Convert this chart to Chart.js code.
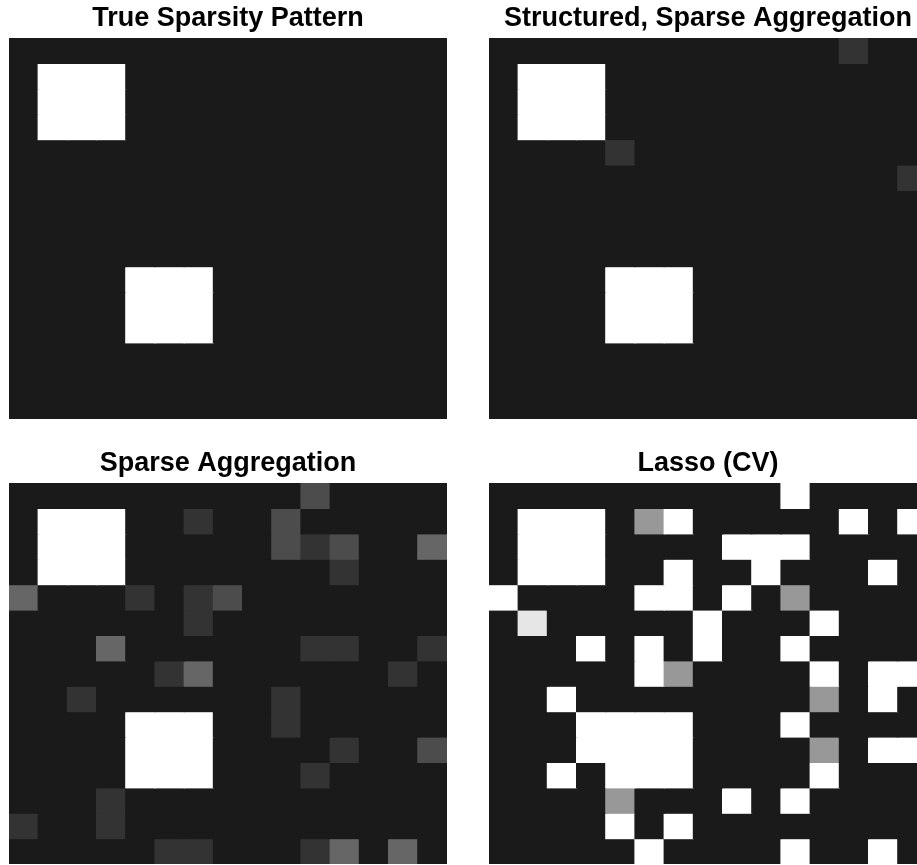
<!DOCTYPE html>
<html>
<head>
<meta charset="utf-8">
<script src="https://cdn.jsdelivr.net/npm/chart.js@4.4.0/dist/chart.umd.min.js"></script>
<style>
  html, body { margin: 0; padding: 0; background: #fff; overflow: hidden; width: 917px; height: 865px; }
  canvas { position: absolute; }
</style>
</head>
<body>
<canvas id="trueChart" width="438" height="419" style="left:9px;top:0px"></canvas>
<canvas id="structChart" width="438" height="419" style="left:489px;top:0px"></canvas>
<canvas id="sparseChart" width="438" height="419" style="left:9px;top:445px"></canvas>
<canvas id="lassoChart" width="438" height="419" style="left:489px;top:445px"></canvas>
<script>
// columnas de la matriz (15 x 15)
const columnas = ['1','2','3','4','5','6','7','8','9','10','11','12','13','14','15'];

// patron real de dispersion
const patronReal = [
  [0,0,0,0,0,0,0,0,0,0,0,0,0,0,0],
  [0,1,1,1,0,0,0,0,0,0,0,0,0,0,0],
  [0,1,1,1,0,0,0,0,0,0,0,0,0,0,0],
  [0,1,1,1,0,0,0,0,0,0,0,0,0,0,0],
  [0,0,0,0,0,0,0,0,0,0,0,0,0,0,0],
  [0,0,0,0,0,0,0,0,0,0,0,0,0,0,0],
  [0,0,0,0,0,0,0,0,0,0,0,0,0,0,0],
  [0,0,0,0,0,0,0,0,0,0,0,0,0,0,0],
  [0,0,0,0,0,0,0,0,0,0,0,0,0,0,0],
  [0,0,0,0,1,1,1,0,0,0,0,0,0,0,0],
  [0,0,0,0,1,1,1,0,0,0,0,0,0,0,0],
  [0,0,0,0,1,1,1,0,0,0,0,0,0,0,0],
  [0,0,0,0,0,0,0,0,0,0,0,0,0,0,0],
  [0,0,0,0,0,0,0,0,0,0,0,0,0,0,0],
  [0,0,0,0,0,0,0,0,0,0,0,0,0,0,0]
];

// agregacion estructurada y dispersa
const agregEstructurada = [
  [0,0,0,0,0,0,0,0,0,0,0,0,.11,0,0],
  [0,1,1,1,0,0,0,0,0,0,0,0,0,0,0],
  [0,1,1,1,0,0,0,0,0,0,0,0,0,0,0],
  [0,1,1,1,0,0,0,0,0,0,0,0,0,0,0],
  [0,0,0,0,.11,0,0,0,0,0,0,0,0,0,0],
  [0,0,0,0,0,0,0,0,0,0,0,0,0,0,.11],
  [0,0,0,0,0,0,0,0,0,0,0,0,0,0,0],
  [0,0,0,0,0,0,0,0,0,0,0,0,0,0,0],
  [0,0,0,0,0,0,0,0,0,0,0,0,0,0,0],
  [0,0,0,0,1,1,1,0,0,0,0,0,0,0,0],
  [0,0,0,0,1,1,1,0,0,0,0,0,0,0,0],
  [0,0,0,0,1,1,1,0,0,0,0,0,0,0,0],
  [0,0,0,0,0,0,0,0,0,0,0,0,0,0,0],
  [0,0,0,0,0,0,0,0,0,0,0,0,0,0,0],
  [0,0,0,0,0,0,0,0,0,0,0,0,0,0,0]
];

// agregacion dispersa
const agregDispersa = [
  [0,0,0,0,0,0,0,0,0,0,.22,0,0,0,0],
  [0,1,1,1,0,0,.11,0,0,.22,0,0,0,0,0],
  [0,1,1,1,0,0,0,0,0,.22,.11,.22,0,0,.33],
  [0,1,1,1,0,0,0,0,0,0,0,.11,0,0,0],
  [.33,0,0,0,.11,0,.11,.22,0,0,0,0,0,0,0],
  [0,0,0,0,0,0,.11,0,0,0,0,0,0,0,0],
  [0,0,0,.33,0,0,0,0,0,0,.11,.11,0,0,.11],
  [0,0,0,0,0,.11,.33,0,0,0,0,0,0,.11,0],
  [0,0,.11,0,0,0,0,0,0,.11,0,0,0,0,0],
  [0,0,0,0,1,1,1,0,0,.11,0,0,0,0,0],
  [0,0,0,0,1,1,1,0,0,0,0,.11,0,0,.22],
  [0,0,0,0,1,1,1,0,0,0,.11,0,0,0,0],
  [0,0,0,.11,0,0,0,0,0,0,0,0,0,0,0],
  [.11,0,0,.11,0,0,0,0,0,0,0,0,0,0,0],
  [0,0,0,0,0,.11,.11,0,0,0,.11,.33,0,.33,0]
];

// lasso con validacion cruzada
const lassoCV = [
  [0,0,0,0,0,0,0,0,0,0,1,0,0,0,0],
  [0,1,1,1,0,.55,1,0,0,0,0,0,1,0,1],
  [0,1,1,1,0,0,0,0,1,1,1,0,0,0,0],
  [0,1,1,1,0,0,1,0,0,1,0,0,0,1,0],
  [1,0,0,0,0,1,1,0,1,0,.55,0,0,0,0],
  [0,.89,0,0,0,0,0,1,0,0,0,1,0,0,0],
  [0,0,0,1,0,1,0,1,0,0,1,0,0,0,0],
  [0,0,0,0,0,1,.55,0,0,0,0,1,0,1,1],
  [0,0,1,0,0,0,0,0,0,0,0,.55,0,1,0],
  [0,0,0,1,1,1,1,0,0,0,1,0,0,0,0],
  [0,0,0,1,1,1,1,0,0,0,0,.55,0,1,1],
  [0,0,1,0,1,1,1,0,0,0,0,1,0,0,0],
  [0,0,0,0,.55,0,0,0,1,0,1,0,0,0,0],
  [0,0,0,0,1,0,1,0,0,0,0,0,0,0,0],
  [0,0,0,0,0,1,0,0,0,0,1,0,0,1,0]
];

// escala de grises: 0 -> casi negro, 1 -> blanco
function gris(v) {
  const g = Math.round(26 + v * 229);
  return 'rgb(' + g + ',' + g + ',' + g + ')';
}

function panel(id, titulo, matriz) {
  new Chart(document.getElementById(id), {
    type: 'bar',
    data: {
      labels: columnas,
      datasets: matriz.map((fila, i) => ({
        label: 'fila ' + (i + 1),
        data: fila.map(() => 1),
        backgroundColor: fila.map(gris),
        borderWidth: 0,
        inflateAmount: 0.6,
        barPercentage: 1,
        categoryPercentage: 1
      }))
    },
    options: {
      responsive: false,
      animation: false,
      layout: { padding: 0 },
      plugins: {
        legend: { display: false },
        tooltip: { enabled: false },
        title: {
          display: true,
          text: titulo,
          color: '#000',
          font: { family: "'Liberation Sans', Arial, sans-serif", size: 27, weight: 'bold', lineHeight: 1.2 },
          padding: { top: 2, bottom: 3.6 }
        }
      },
      scales: {
        x: { stacked: true, display: false },
        y: { stacked: true, display: false, reverse: true, min: 0, max: 15 }
      }
    }
  });
}

panel('trueChart', 'True Sparsity Pattern', patronReal);
panel('structChart', 'Structured, Sparse Aggregation', agregEstructurada);
panel('sparseChart', 'Sparse Aggregation', agregDispersa);
panel('lassoChart', 'Lasso (CV)', lassoCV);
</script>
</body>
</html>
